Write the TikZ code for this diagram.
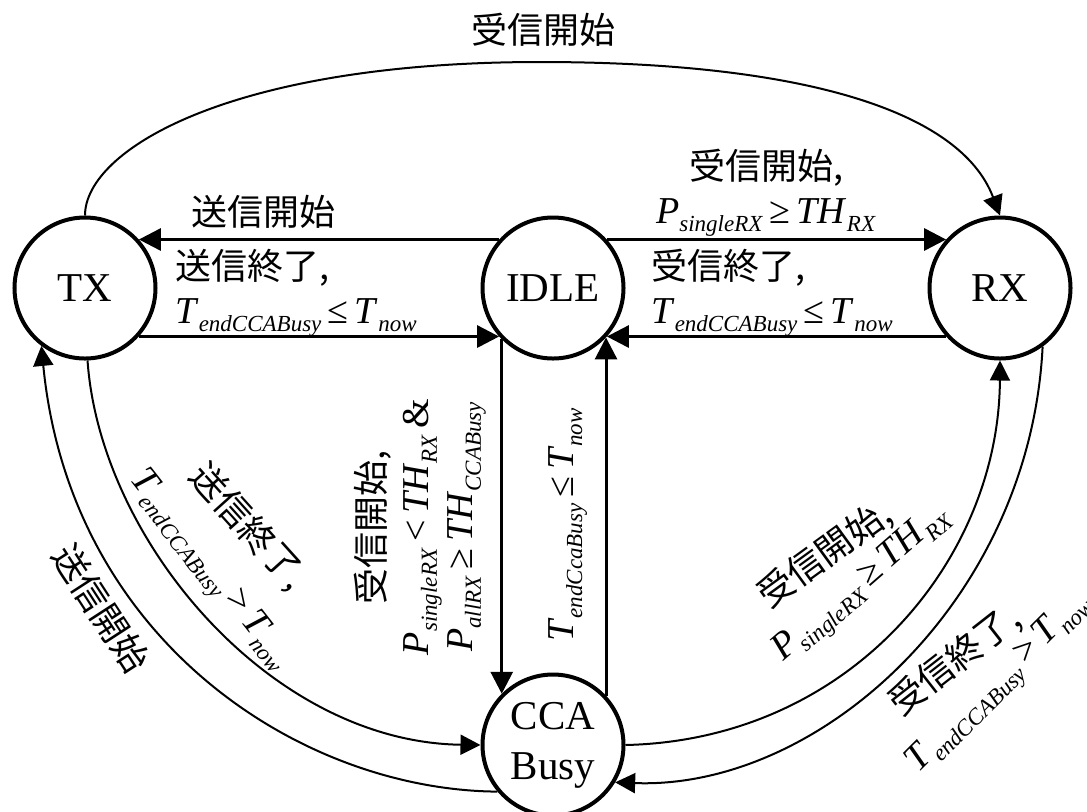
\documentclass[tikz,border=0pt]{standalone}
\usepackage{fontspec}
\setmainfont{Liberation Serif}
\newfontfamily\jpfont{Noto Sans CJK JP}
\usetikzlibrary{arrows.meta}

\newcommand{\jtext}[1]{{\jpfont\fontsize{18}{22}\selectfont #1}}
\newcommand{\mvar}[2]{\textit{#1}\raisebox{-0.22em}{\fontsize{11.5}{12}\selectfont\textit{#2}}}

\begin{document}
\begin{tikzpicture}[x=0.5pt, y=-0.5pt,
  state/.style={circle, draw, line width=2pt, minimum size=70.5pt, inner sep=0pt,
    align=center, font=\fontsize{20.5}{25}\selectfont},
  tr/.style={line width=1.5pt, -{Triangle[length=11pt, width=11pt]}},
  cv/.style={line width=1pt, -{Triangle[length=10pt, width=10pt]}},
  lbl/.style={inner sep=0pt, align=center, font=\fontsize{19}{22}\selectfont}]
  \useasboundingbox (0,0) rectangle (1087,811);

  % Draw the states
  \node[state] (tx) at (85,288) {TX};
  \node[state] (idle) at (553,288) {IDLE};
  \node[state] (rx) at (1000,288) {RX};
  \node[state] (cca) at (553,745) {CCA\\Busy};

  % Straight transitions
  \draw[tr] (idle.138) -- (tx.42);
  \draw[tr] (tx.-42) -- (idle.-138);
  \draw[tr] (idle.42) -- (rx.138);
  \draw[tr] (rx.-138) -- (idle.-42);
  \draw[tr] (idle.-135) -- (cca.135);
  \draw[tr] (cca.43) -- (idle.-43);

  % Curved transitions
  \draw[cv] (tx.north) .. controls (85,150) and (230,62) .. (540,62)
    .. controls (800,62) and (960,110) .. (rx.north);
  \draw[cv] (tx.-88) .. controls (100,540) and (270,742) .. (cca.180);
  \draw[cv] (cca.220) .. controls (300,790) and (70,640) .. (tx.233);
  \draw[cv] (cca.0) .. controls (850,740) and (999,560) .. (rx.-90);
  \draw[cv] (rx.-54) .. controls (1030,600) and (820,790) .. (cca.-31);

  % Labels
  \node[lbl] (ltop) at (543,30) {\jtext{受信開始}};
  \node[lbl] (lstx) at (263,212) {\jtext{送信開始}};
  \node[lbl, align=left, anchor=west] (letx) at (175,293)
    {\jtext{送信終了,}\\\mvar{T}{endCCABusy}\,≤\,\mvar{T}{now}};
  \node[lbl] (lsrx) at (766,193)
    {\jtext{受信開始,}\\\mvar{P}{singleRX}\,≥\,\mvar{TH}{RX}};
  \node[lbl, align=left, anchor=west] (lerx) at (651,293)
    {\jtext{受信終了,}\\\mvar{T}{endCCABusy}\,≤\,\mvar{T}{now}};
  \node[lbl, rotate=90] (lcb) at (420,527)
    {\jtext{受信開始,}\\\mvar{P}{singleRX}\,<\,\mvar{TH}{RX}\,\&\\\mvar{P}{allRX}\,≥\,\mvar{TH}{CCABusy}};
  \node[lbl, rotate=90] (lci) at (568,525) {\mvar{T}{endCcaBusy}\,≤\,\mvar{T}{now}};
  \node[lbl, rotate=-57] (lctx) at (101,608) {\jtext{送信開始}};
  \node[lbl, rotate=-48] (ltxc) at (248,527) {\jtext{送信終了,}};
  \node[lbl, rotate=-52] (ltxc2) at (209,571) {\mvar{T}{endCCABusy}\,>\,\mvar{T}{now}};
  \node[lbl, rotate=36] (lcrx) at (825,555) {\jtext{受信開始,}};
  \node[lbl, rotate=41] (lcrx2) at (863,585) {\mvar{P}{singleRX}\,≥\,\mvar{TH}{RX}};
  \node[lbl, rotate=38] (lrxc) at (955,661) {\jtext{受信終了,}};
  \node[lbl, rotate=45] (lrxc2) at (1000,684) {\mvar{T}{endCCABusy}\,>\,\mvar{T}{now}};
\end{tikzpicture}
\end{document}
